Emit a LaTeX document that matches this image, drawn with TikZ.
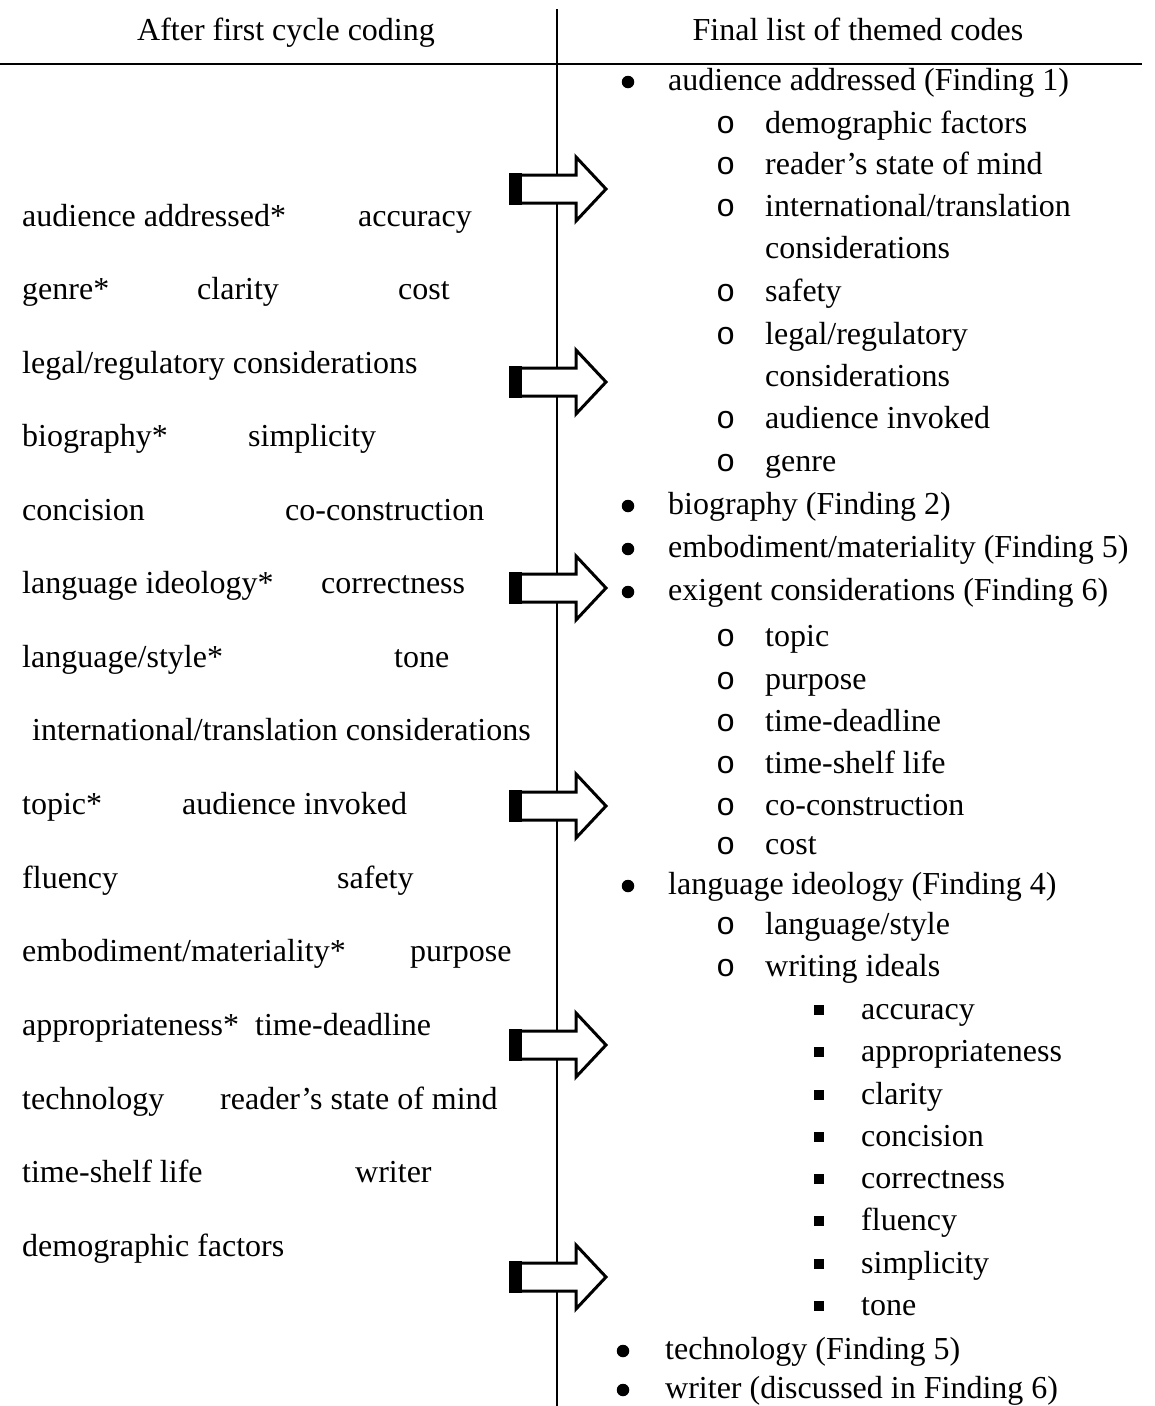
\documentclass[tikz,border=0pt]{standalone}
\usepackage{fontspec}
\setmainfont{Liberation Serif}
\newfontfamily\monofam{Liberation Mono}
\begin{document}
\begin{tikzpicture}[x=1pt,y=-1pt,
  txt/.style={anchor=base west,inner sep=0pt,font=\fontsize{32}{38}\selectfont},
  hdr/.style={anchor=base,inner sep=0pt,font=\fontsize{32}{38}\selectfont},
  rule/.style={line width=2pt},
  blockarrow/.style={fill=white,draw=black,line width=3pt,line join=miter},
  dot/.style={circle,fill=black,inner sep=0pt,minimum size=12.5pt},
  ring/.style={anchor=base west,inner sep=0pt,font=\fontsize{32}{38}\monofam},
  sq/.style={rectangle,fill=black,inner sep=0pt,minimum size=10pt}]
\useasboundingbox (0,0) rectangle (1155,1406);
\fill[white] (0,0) rectangle (1155,1406);
% rules
\coordinate (vtop) at (557,9);
\coordinate (vbot) at (557,1406);
\coordinate (hl) at (0,64);
\coordinate (hr) at (1142,64);
\draw[rule] (vtop) -- (vbot);
\draw[rule] (hl) -- (hr);
% headers
\node[hdr] (h1) at (286,40) {After first cycle coding};
\node[hdr] (h2) at (858,40) {Final list of themed codes};
% left column
\node[txt] (l1a) at (22,226) {audience addressed*};
\node[txt] (l1b) at (358,226) {accuracy};
\node[txt] (l2a) at (22,299) {genre*};
\node[txt] (l2b) at (197,299) {clarity};
\node[txt] (l2c) at (398,299) {cost};
\node[txt] (l3a) at (22,373) {legal/regulatory considerations};
\node[txt] (l4a) at (22,446) {biography*};
\node[txt] (l4b) at (248,446) {simplicity};
\node[txt] (l5a) at (22,520) {concision};
\node[txt] (l5b) at (285,520) {co-construction};
\node[txt] (l6a) at (22,593) {language ideology*};
\node[txt] (l6b) at (321,593) {correctness};
\node[txt] (l7a) at (22,667) {language/style*};
\node[txt] (l7b) at (394,667) {tone};
\node[txt] (l8a) at (32,740) {international/translation considerations};
\node[txt] (l9a) at (22,814) {topic*};
\node[txt] (l9b) at (182,814) {audience invoked};
\node[txt] (l10a) at (22,888) {fluency};
\node[txt] (l10b) at (337,888) {safety};
\node[txt] (l11a) at (22,961) {embodiment/materiality*};
\node[txt] (l11b) at (410,961) {purpose};
\node[txt] (l12a) at (22,1035) {appropriateness*};
\node[txt] (l12b) at (255,1035) {time-deadline};
\node[txt] (l13a) at (22,1109) {technology};
\node[txt] (l13b) at (220,1109) {reader’s state of mind};
\node[txt] (l14a) at (22,1182) {time-shelf life};
\node[txt] (l14b) at (355,1182) {writer};
\node[txt] (l15a) at (22,1256) {demographic factors};
% arrows
\foreach \cy [count=\i] in {189,382,588,806,1045,1277}{
  \draw[blockarrow] (513,\cy-14) -- (576,\cy-14) -- (576,\cy-32) -- (606,\cy) -- (576,\cy+32) -- (576,\cy+14) -- (513,\cy+14) -- cycle;
  \fill[black] (509,\cy-16) rectangle (522,\cy+16);
}
% right column: level 1 bullets
\foreach \nm/\yb/\t in {r1/90/{audience addressed (Finding 1)},r2/514/{biography (Finding 2)},r3/557/{embodiment/materiality (Finding 5)},r4/600/{exigent considerations (Finding 6)},r5/894/{language ideology (Finding 4)}}{
  \node[dot] (\nm d) at (628,\yb-8) {};
  \node[txt] (\nm) at (668,\yb) {\t};
}
\foreach \nm/\yb/\t in {r6/1359/{technology (Finding 5)},r7/1398/{writer (discussed in Finding 6)}}{
  \node[dot] (\nm d) at (623,\yb-8) {};
  \node[txt] (\nm) at (665,\yb) {\t};
}
% level 2
\foreach \nm/\yb/\t in {s1/133/{demographic factors},s2/174/{reader’s state of mind},s3/216/{international/translation},s4/301/{safety},s5/344/{legal/regulatory},s6/428/{audience invoked},s7/471/{genre},s8/646/{topic},s9/689/{purpose},s10/731/{time-deadline},s11/773/{time-shelf life},s12/815/{co-construction},s13/854/{cost},s14/934/{language/style},s15/976/{writing ideals}}{
  \node[ring] (\nm o) at (716,\yb) {o};
  \node[txt] (\nm) at (765,\yb) {\t};
}
\node[txt] (s3b) at (765,258) {considerations};
\node[txt] (s5b) at (765,386) {considerations};
% level 3
\foreach \nm/\yb/\t in {q1/1019/{accuracy},q2/1061/{appropriateness},q3/1104/{clarity},q4/1146/{concision},q5/1188/{correctness},q6/1230/{fluency},q7/1273/{simplicity},q8/1315/{tone}}{
  \node[sq] (\nm s) at (819,\yb-9) {};
  \node[txt] (\nm) at (861,\yb) {\t};
}
\end{tikzpicture}
\end{document}
